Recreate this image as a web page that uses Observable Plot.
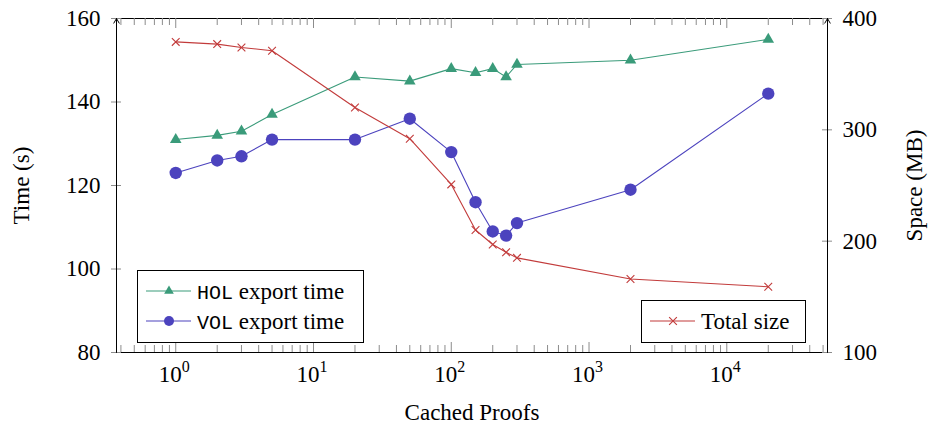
<!DOCTYPE html>
<html><head><meta charset="utf-8">
<script src="https://cdn.jsdelivr.net/npm/d3@7"></script>
<script src="https://cdn.jsdelivr.net/npm/@observablehq/plot@0.6"></script>
<style>
body{margin:0;background:#fff;}
#chart svg{display:block;}
</style></head><body><div id="chart"></div>
<script>
// ---- data ----
const proofs    = [1, 2, 3, 5, 20, 50, 100, 150, 200, 250, 300, 2000, 20000];
const holTime   = [131, 132, 133, 137, 146, 145, 148, 147, 148, 146, 149, 150, 155];
const volTime   = [123, 126, 127, 131, 131, 136, 128, 116, 109, 108, 111, 119, 142];
const totalSize = [379, 377, 374, 371, 320, 292, 251, 210, 197, 190, 185, 166, 159];
const leftTicks = [80, 100, 120, 140, 160];
const rightTicks = [100, 200, 300, 400];
const decades = [0, 1, 2, 3, 4];
const seriesNames = ["HOL export time", "VOL export time", "Total size"];
const xLabel = "Cached Proofs", yLabel = "Time (s)", y2Label = "Space (MB)";

// ---- layout ----
const W = 930, H = 424, mL = 116, mR = 103, mT = 18, mB = 72;
const fw = W - mL - mR, fh = H - mT - mB;
const xDomain = [10 ** -0.43, 10 ** 4.731];
const yDomain = [80, 160], rDomain = [100, 400];
const toLeft = v => yDomain[0] + (v - rDomain[0]) * (yDomain[1] - yDomain[0]) / (rDomain[1] - rDomain[0]);
const toRight = v => rDomain[0] + (v - yDomain[0]) * (rDomain[1] - rDomain[0]) / (yDomain[1] - yDomain[0]);
const green = "#3a9b7a", blue = "#4c43be", red = "#c23b3b", tickGray = "#8c8c8c";
const serif = "'Liberation Serif', 'Times New Roman', serif";
const mono = "'Liberation Mono', 'DejaVu Sans Mono', monospace";

const hol = proofs.map((x, i) => ({x, y: holTime[i]}));
const vol = proofs.map((x, i) => ({x, y: volTime[i]}));
const tot = proofs.map((x, i) => ({x, y: toLeft(totalSize[i])}));
const major = decades.map(d => 10 ** d);
const minor = [];
for (let e = -1; e <= 4; e++) for (let m = 2; m <= 9; m++) {
  const v = m * 10 ** e;
  if (v >= xDomain[0] && v <= xDomain[1]) minor.push(v);
}

const chart = Plot.plot({
  width: W, height: H,
  marginLeft: mL, marginRight: mR, marginTop: mT, marginBottom: mB,
  style: {fontFamily: serif, fontSize: "23px", background: "white", color: "black"},
  x: {type: "log", domain: xDomain, axis: null},
  y: {domain: yDomain},
  marks: [
    Plot.frame({stroke: "black", strokeWidth: 1}),
    // x ticks (inward)
    Plot.tickX(minor, {x: d => d, insetTop: fh - 7, stroke: tickGray}),
    Plot.tickX(major, {x: d => d, insetTop: fh - 10, stroke: tickGray}),
    Plot.tickX(minor, {x: d => d, insetBottom: fh - 7, stroke: tickGray}),
    Plot.tickX(major, {x: d => d, insetBottom: fh - 10, stroke: tickGray}),
    // y ticks (centered on axis lines)
    Plot.tickY(leftTicks, {y: d => d, insetRight: fw - 10, dx: -5, stroke: tickGray}),
    Plot.tickY(rightTicks.map(toLeft), {y: d => d, insetLeft: fw - 10, dx: 5, stroke: tickGray}),
    // axes labels
    Plot.axisY(leftTicks, {anchor: "left", tickSize: 0, tickPadding: 16, label: null, fontSize: 23, tickFormat: d => String(d)}),
    Plot.axisY(rightTicks.map(toLeft), {anchor: "right", tickSize: 0, tickPadding: 15, label: null, fontSize: 23, tickFormat: d => String(Math.round(toRight(d)))}),
    Plot.text(major, {x: d => d, text: () => "10", frameAnchor: "bottom", lineAnchor: "middle", textAnchor: "end", dy: 22, dx: 6, fontSize: 23}),
    Plot.text(decades, {x: d => 10 ** d, text: d => String(d), frameAnchor: "bottom", lineAnchor: "middle", textAnchor: "start", dy: 14, dx: 6, fontSize: 16}),
    Plot.text([yLabel], {frameAnchor: "left", textAnchor: "middle", lineAnchor: "middle", dx: -95, rotate: -90, fontSize: 23}),
    Plot.text([y2Label], {frameAnchor: "right", textAnchor: "middle", lineAnchor: "middle", dx: 87, rotate: -90, fontSize: 23}),
    Plot.text([xLabel], {frameAnchor: "bottom", textAnchor: "middle", lineAnchor: "middle", dy: 60, fontSize: 23}),
    // axis arrows
    Plot.arrow(xDomain, {x1: d => d, x2: d => d, y1: yDomain[0], y2: yDomain[1], stroke: "black", strokeWidth: 1, headLength: 8, insetStart: 0, insetEnd: 0}),
    // series
    Plot.line(hol, {x: "x", y: "y", stroke: green, strokeWidth: 1.1}),
    Plot.dot(hol, {x: "x", y: "y", symbol: "triangle", r: 4.3, fill: green, stroke: "none"}),
    Plot.line(vol, {x: "x", y: "y", stroke: blue, strokeWidth: 1.1}),
    Plot.dot(vol, {x: "x", y: "y", symbol: "circle", r: 6.2, fill: blue, stroke: "none"}),
    Plot.line(tot, {x: "x", y: "y", stroke: red, strokeWidth: 1.1}),
    Plot.dot(tot, {x: "x", y: "y", symbol: "times", r: 3.6, stroke: red, strokeWidth: 1.1})
  ]
});
document.getElementById("chart").appendChild(chart);

// ---- legends ----
const svg = d3.select(chart);
function legend(bx, by, bw, bh, rows) {
  const g = svg.append("g").attr("text-anchor", "start");
  g.append("rect").attr("x", bx + 0.5).attr("y", by + 0.5).attr("width", bw).attr("height", bh)
    .attr("fill", "white").attr("stroke", "black").attr("stroke-width", 1);
  rows.forEach((r, i) => {
    const cy = by + 21 + i * 30;
    g.append("line").attr("x1", bx + 9).attr("x2", bx + 54).attr("y1", cy).attr("y2", cy)
      .attr("stroke", r.color).attr("stroke-width", 1.1);
    const p = g.append("path").attr("transform", `translate(${bx + 32},${cy})`)
      .attr("d", d3.symbol(r.symbol, r.r * r.r * Math.PI)());
    if (r.symbol === d3.symbolTimes) p.attr("fill", "none").attr("stroke", r.color).attr("stroke-width", 1.1);
    else p.attr("fill", r.color);
    const t = g.append("text").attr("x", bx + 60).attr("y", cy).attr("dy", "0.35em")
      .attr("text-anchor", "start")
      .attr("font-family", serif).attr("font-size", 23).attr("fill", "black");
    if (r.code) {
      t.append("tspan").attr("font-family", mono).attr("font-size", 20).text(r.code);
      t.append("tspan").text(r.rest);
    } else t.text(r.rest);
  });
}
legend(137, 270, 226, 72, [
  {color: green, symbol: d3.symbolTriangle, r: 3.6, code: seriesNames[0].split(" ")[0], rest: " " + seriesNames[0].split(" ").slice(1).join(" ")},
  {color: blue, symbol: d3.symbolCircle, r: 5, code: seriesNames[1].split(" ")[0], rest: " " + seriesNames[1].split(" ").slice(1).join(" ")}
]);
legend(641, 300, 164, 42, [
  {color: red, symbol: d3.symbolTimes, r: 3.6, code: null, rest: seriesNames[2]}
]);
</script></body></html>
